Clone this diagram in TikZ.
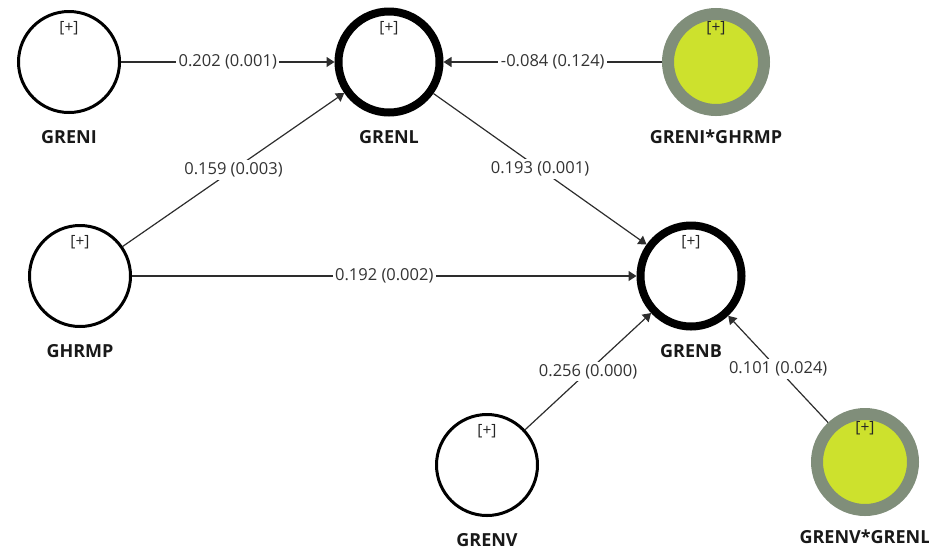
\documentclass[tikz,border=0pt]{standalone}
\usepackage{fontspec}
\setmainfont{Open Sans}
\usetikzlibrary{arrows.meta}
\definecolor{ringgray}{RGB}{128,142,122}
\definecolor{modyellow}{RGB}{205,225,45}
\definecolor{pathgray}{RGB}{45,45,45}

\begin{document}
\begin{tikzpicture}[x=1pt,y=-1pt,>={Triangle[length=8pt,width=10pt]},
  latent/.style={circle,draw=black,line width=3pt,minimum size=101pt,inner sep=0pt},
  endog/.style={latent,line width=8pt},
  moder/.style={circle,draw=ringgray,fill=modyellow,line width=12pt,minimum size=96pt,inner sep=0pt},
  plusmark/.style={draw=none,fill=none,yshift=34pt,text=black!85,font=\fontsize{15.5}{18}\selectfont},
  namelab/.style={draw=none,fill=none,yshift=-75pt,text=black!90,font=\fontsize{18}{21}\selectfont\bfseries},
  coef/.style={midway,fill=white,inner sep=2.5pt,text=black!80,font=\fontsize{16.5}{19}\selectfont},
  effect/.style={->,pathgray,line width=1.2pt}]
  \useasboundingbox (0,0) rectangle (929,550);

  % constructs
  \node[latent,label={[plusmark]center:{[+]}},label={[namelab]center:GRENI}] (greni) at (69,62) {};
  \node[endog,label={[plusmark]center:{[+]}},label={[namelab]center:GRENL}] (grenl) at (389,62) {};
  \node[moder,label={[plusmark]center:{[+]}},label={[namelab]center:GRENI*GHRMP}] (modgh) at (716,62) {};
  \node[latent,label={[plusmark]center:{[+]}},label={[namelab]center:GHRMP}] (ghrmp) at (80,276) {};
  \node[endog,label={[plusmark]center:{[+]}},label={[namelab]center:GRENB}] (grenb) at (691,276) {};
  \node[latent,label={[plusmark]center:{[+]}},label={[namelab]center:GRENV}] (grenv) at (487,465) {};
  \node[moder,label={[plusmark]center:{[+]}},label={[namelab]center:GRENV*GRENL}] (modgl) at (865,462) {};

  % paths
  \draw[effect] (greni) -- node[coef] {0.202 (0.001)} (grenl);
  \draw[effect] (modgh) -- node[coef] {-0.084 (0.124)} (grenl);
  \draw[effect] (ghrmp) -- node[coef] {0.159 (0.003)} (grenl);
  \draw[effect] (grenl) -- node[coef] {0.193 (0.001)} (grenb);
  \draw[effect] (ghrmp) -- node[coef] {0.192 (0.002)} (grenb);
  \draw[effect] (grenv) -- node[coef] {0.256 (0.000)} (grenb);
  \draw[effect] (modgl) -- node[coef] {0.101 (0.024)} (grenb);
\end{tikzpicture}
\end{document}
